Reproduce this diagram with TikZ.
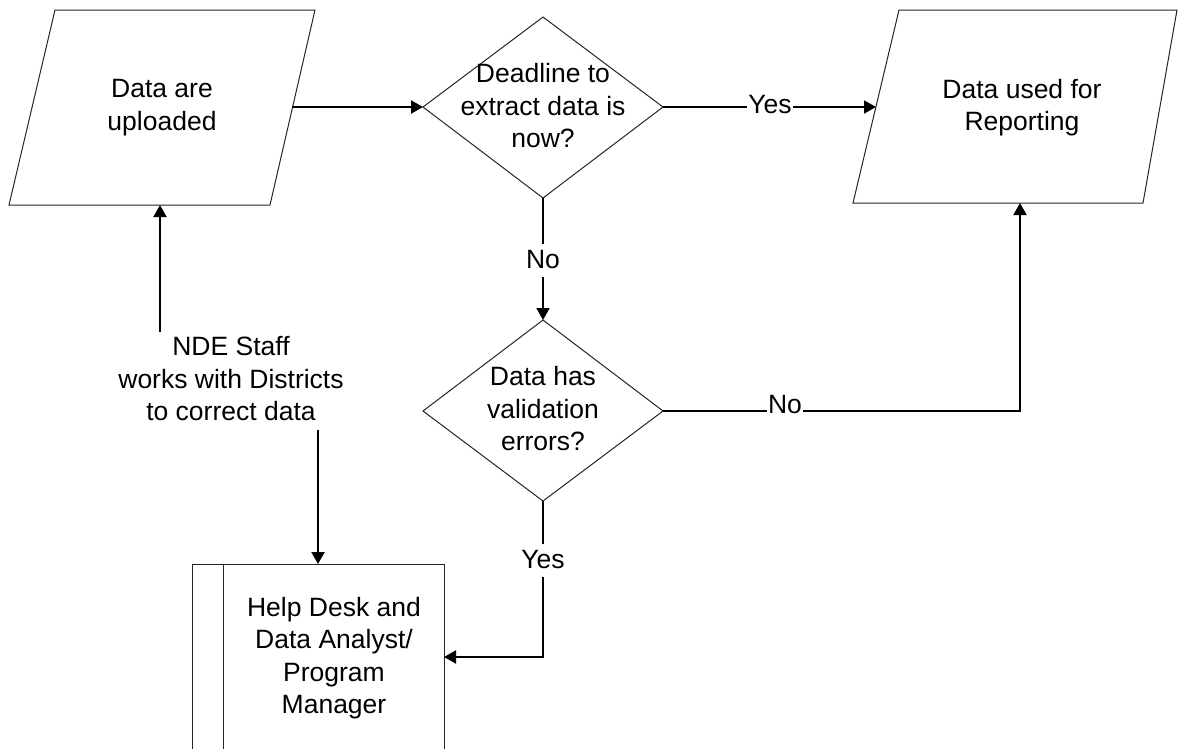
\documentclass[tikz,border=0pt]{standalone}
\usepackage{fontspec}
\setmainfont{Liberation Sans}
\usetikzlibrary{arrows.meta}
\begin{document}
\begin{tikzpicture}[x=1pt,y=-1pt,
  outline/.style={draw=black!85, line width=1pt, fill=white},
  txt/.style={font=\fontsize{26.5}{32.5}\selectfont, align=center, inner sep=0pt},
  conn/.style={draw=black, line width=2pt, -{Triangle[length=12pt,width=13pt]}},
  plainconn/.style={draw=black, line width=2pt},
  elabel/.style={font=\fontsize{26.5}{32.5}\selectfont, fill=white, inner xsep=1.5pt, inner ysep=0pt, text height=24pt, text depth=9pt}]
\useasboundingbox (0,0) rectangle (1178,748);
\clip (0,0) rectangle (1178,748);
\fill[white] (0,0) rectangle (1178,748);

% shapes
\path[outline] (55,10) -- (315,10) -- (270,205) -- (9,205) -- cycle;
\path[outline] (899,10) -- (1177,10) -- (1143,203) -- (853,203) -- cycle;
\path[outline] (423,107) -- (543,17) -- (663,107) -- (543,198) -- cycle;
\path[outline] (423,411) -- (543,320) -- (663,411) -- (543,501) -- cycle;
\path[outline] (192,564) rectangle (444,770);
\draw[black!85, line width=1pt] (223,564) -- (223,770);

% anchor coordinates
\coordinate (p1r) at (292,107);
\coordinate (p1b) at (160,205);
\coordinate (p2l) at (876,107);
\coordinate (p2b) at (1020,203);
\coordinate (d1l) at (423,107);
\coordinate (d1r) at (663,107);
\coordinate (d1b) at (543,198);
\coordinate (d2t) at (543,320);
\coordinate (d2r) at (663,411);
\coordinate (d2b) at (543,501);
\coordinate (bxt) at (318,564);
\coordinate (bxr) at (444,657);
\coordinate (ndet) at (160,332);
\coordinate (ndeb) at (318,430);
\coordinate (c1) at (1020,411);
\coordinate (c2) at (543,657);

% texts
\node[txt] (p1) at (162,107.5) {Data are\\uploaded};
\node[txt] (p2) at (1022,107.5) {Data used for\\Reporting};
\node[txt] (d1) at (543,106) {Deadline to\\extract data is\\now?};
\node[txt] (d2) at (543,409) {Data has\\validation\\errors?};
\node[txt] (nde) at (231,379) {NDE Staff\\works with Districts\\to correct data};
\node[txt] (bx) at (334,658) {Help Desk and\\Data Analyst/\\Program\\Manager};

% connectors
\path[conn] (p1r) -- (d1l);
\path[conn] (d1r) -- (p2l);
\path[conn] (d1b) -- (d2t);
\path[conn] (d2r) -- (c1) -- (p2b);
\path[conn] (d2b) -- (c2) -- (bxr);
\path[conn] (ndet) -- (p1b);
\path[conn] (ndeb) -- (bxt);

% connector labels
\node[elabel, anchor=base] (lyes1) at (770,113) {Yes};
\node[elabel, anchor=base] (lno1) at (543,268) {No};
\node[elabel, anchor=base] (lno2) at (785,413) {No};
\node[elabel, anchor=base] (lyes2) at (543,568) {Yes};
\end{tikzpicture}
\end{document}
